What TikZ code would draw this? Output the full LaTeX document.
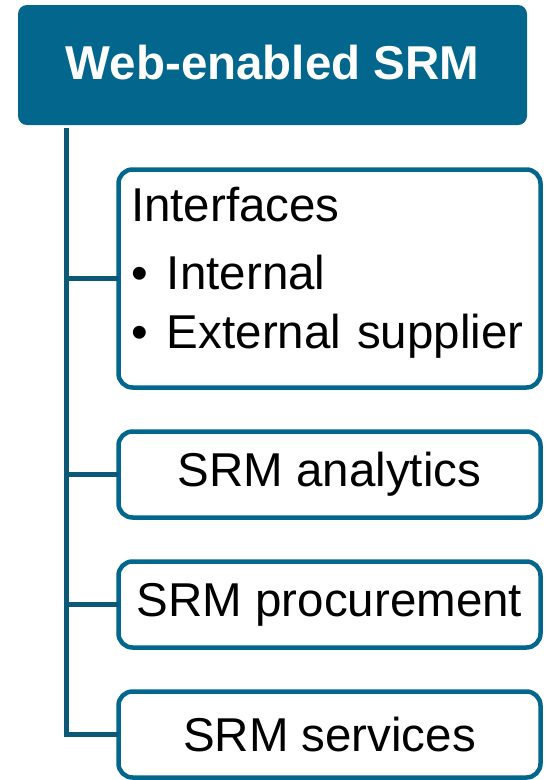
\documentclass[tikz,border=0pt]{standalone}
\usepackage{fontspec}
\setmainfont{Liberation Sans}
\usepackage{tikz}
\usetikzlibrary{positioning}
\definecolor{srmblue}{HTML}{03668C}
\definecolor{spineblue}{HTML}{0B5877}

\begin{document}
\begin{tikzpicture}[
        x=1pt, y=-1pt,
        node distance=44pt,
        every node/.style={font=\fontsize{47.5}{59}\selectfont},
        head/.style={rectangle, rounded corners=9pt, fill=srmblue, text=white, font=\fontsize{47.5}{59}\selectfont\bfseries, text depth=5pt, minimum width=509pt, minimum height=120pt},
        item/.style={draw=srmblue, line width=4.5pt, rectangle, rounded corners=14pt, outer sep=0pt, minimum width=422pt, minimum height=86pt, inner sep=0pt},
        branch/.style={draw=spineblue, line width=5pt}
    ]
    \useasboundingbox (0,0) rectangle (546,780);
    \node[head] (web) at (272.5,65) {Web-enabled SRM};
    \node[item, anchor=north west, minimum height=218pt, text width=397pt, inner xsep=12.5pt, align=left] (intf) at (118.5,169.5)
        {Interfaces\\[9pt]\makebox[36pt][l]{•}Internal\\\makebox[36pt][l]{•}External supplier\rule[-21pt]{0pt}{0pt}};
    \node[item, below=of intf] (ana) {SRM analytics};
    \node[item, below=of ana] (proc) {SRM procurement};
    \node[item, below=of proc] (serv) {SRM services};
    % spine and branches
    \coordinate (spine) at (66.5,128);
    \draw[branch] (spine) |- (serv.west);
    \foreach \n in {intf, ana, proc}
        \draw[branch] (spine |- \n.west) -- (\n.west);
\end{tikzpicture}
\end{document}
